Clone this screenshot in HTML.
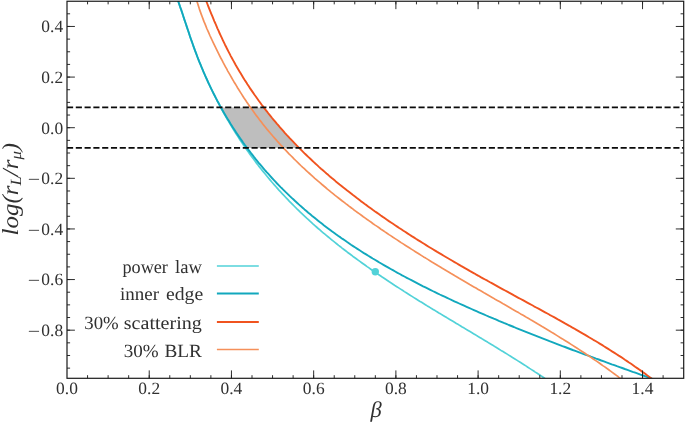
<!DOCTYPE html>
<html><head><meta charset="utf-8"><title>plot</title>
<style>
html,body{margin:0;padding:0;background:#fff;}
body{width:685px;height:422px;overflow:hidden;font-family:"Liberation Serif",serif;}
svg{display:block;will-change:transform;}
text{font-family:"Liberation Serif",serif;fill:#303030;text-rendering:geometricPrecision;}
</style></head><body>
<svg width="685" height="422" viewBox="0 0 685 422">
<rect width="685" height="422" fill="#fff"/>
<defs><clipPath id="ax"><rect x="67.0" y="1.25" width="616.7" height="377.05"/></clipPath></defs>
<g clip-path="url(#ax)" fill="none" stroke-linecap="butt" stroke-linejoin="round">
<polygon points="220.9,107.5 221.2,107.9 222.5,110.2 223.8,112.4 225.1,114.7 226.4,116.9 227.7,119.1 229.1,121.3 230.4,123.5 231.8,125.7 233.2,127.9 234.6,130.1 236.0,132.2 237.4,134.3 238.8,136.4 240.3,138.5 241.8,140.6 243.2,142.7 244.7,144.8 246.2,146.8 247.1,147.9 299.2,147.9 298.1,146.9 296.4,145.2 294.7,143.4 293.1,141.7 291.4,139.9 289.7,138.1 288.1,136.3 286.4,134.6 284.8,132.8 283.2,130.9 281.6,129.1 280.0,127.3 278.4,125.4 276.8,123.6 275.2,121.7 273.6,119.8 272.1,118.0 270.6,116.1 269.0,114.2 267.5,112.2 266.0,110.3 264.5,108.4 263.8,107.5" fill="#bebebe" stroke="none"/>
<path d="M176.7,-3.2 L178.3,1.5 L179.1,3.8 L179.9,6.2 L180.6,8.5 L181.4,10.8 L182.2,13.2 L183.0,15.5 L183.7,17.8 L184.5,20.2 L185.3,22.5 L186.1,24.8 L186.8,27.2 L187.6,29.5 L188.4,31.8 L189.2,34.1 L190.0,36.4 L190.8,38.8 L191.6,41.1 L192.4,43.3 L193.2,45.6 L194.1,47.9 L194.9,50.2 L195.8,52.4 L196.6,54.7 L197.5,56.9 L198.4,59.1 L199.3,61.4 L200.2,63.6 L201.1,65.8 L202.0,68.0 L202.9,70.2 L203.8,72.3 L204.8,74.5 L205.7,76.7 L206.7,78.8 L207.7,81.0 L208.6,83.1 L209.6,85.2 L210.6,87.3 L211.6,89.4 L212.6,91.5 L213.7,93.6 L214.7,95.7 L215.7,97.8 L216.8,99.8 L217.8,101.9 L218.9,103.9 L220.0,106.0 L221.0,108.0 L222.1,110.0 L223.2,112.0 L224.3,114.0 L225.5,116.0 L226.6,118.0 L227.7,120.0 L228.9,121.9 L230.0,123.9 L231.2,125.8 L232.4,127.8 L233.6,129.7 L234.7,131.6 L235.9,133.5 L237.2,135.4 L238.4,137.3 L239.6,139.2 L240.8,141.1 L242.1,142.9 L243.3,144.8 L244.6,146.6 L245.9,148.5 L247.1,150.3 L248.4,152.1 L249.7,153.9 L251.0,155.7 L252.3,157.5 L253.7,159.3 L255.0,161.1 L256.3,162.9 L257.7,164.6 L259.0,166.4 L260.4,168.1 L261.8,169.9 L263.2,171.6 L264.6,173.3 L266.0,175.0 L267.4,176.7 L268.8,178.4 L270.2,180.1 L271.6,181.8 L273.1,183.5 L274.5,185.1 L276.0,186.8 L277.4,188.4 L278.9,190.1 L280.4,191.7 L281.9,193.3 L283.4,194.9 L284.9,196.5 L286.4,198.1 L287.9,199.7 L289.4,201.3 L291.0,202.9 L292.5,204.4 L294.1,206.0 L295.6,207.5 L297.2,209.1 L298.8,210.6 L300.3,212.2 L301.9,213.7 L303.5,215.2 L305.1,216.7 L306.7,218.2 L308.4,219.7 L310.0,221.2 L311.6,222.6 L313.2,224.1 L314.9,225.6 L316.5,227.0 L318.2,228.5 L319.9,229.9 L321.5,231.4 L323.2,232.8 L324.9,234.2 L326.6,235.6 L328.3,237.0 L330.0,238.4 L331.7,239.8 L333.4,241.2 L335.2,242.6 L336.9,244.0 L338.6,245.4 L340.4,246.7 L342.1,248.1 L343.9,249.5 L345.6,250.8 L347.4,252.2 L349.2,253.5 L350.9,254.8 L352.7,256.2 L354.5,257.5 L356.3,258.8 L358.1,260.1 L359.9,261.4 L361.7,262.7 L363.5,264.0 L365.3,265.3 L367.1,266.6 L369.0,267.9 L370.8,269.2 L372.6,270.5 L374.5,271.7 L376.3,273.0 L378.1,274.3 L380.0,275.5 L381.8,276.8 L383.7,278.0 L385.6,279.3 L387.4,280.5 L389.3,281.8 L391.2,283.0 L393.0,284.2 L394.9,285.5 L396.8,286.7 L398.7,287.9 L400.6,289.1 L402.5,290.3 L404.4,291.6 L406.3,292.8 L408.2,294.0 L410.1,295.2 L412.0,296.4 L413.9,297.6 L415.8,298.8 L417.7,300.0 L419.6,301.2 L421.6,302.3 L423.5,303.5 L425.4,304.7 L427.3,305.9 L429.3,307.1 L431.2,308.3 L433.1,309.4 L435.1,310.6 L437.0,311.8 L438.9,313.0 L440.9,314.1 L442.8,315.3 L444.8,316.5 L446.7,317.6 L448.6,318.8 L450.6,320.0 L452.5,321.1 L454.5,322.3 L456.4,323.5 L458.4,324.6 L460.3,325.8 L462.2,327.0 L464.2,328.1 L466.1,329.3 L468.1,330.5 L470.0,331.6 L472.0,332.8 L473.9,333.9 L475.9,335.1 L477.8,336.3 L479.7,337.4 L481.7,338.6 L483.6,339.8 L485.6,341.0 L487.5,342.1 L489.4,343.3 L491.4,344.5 L493.3,345.6 L495.2,346.8 L497.2,348.0 L499.1,349.2 L501.0,350.4 L503.0,351.5 L504.9,352.7 L506.8,353.9 L508.7,355.1 L510.6,356.3 L512.5,357.5 L514.5,358.7 L516.4,359.9 L518.3,361.1 L520.2,362.3 L522.1,363.5 L524.0,364.7 L525.9,365.9 L527.8,367.2 L529.6,368.4 L531.5,369.6 L533.4,370.8 L535.3,372.1 L537.2,373.3 L539.0,374.5 L540.9,375.8 L542.8,377.0 L544.6,378.3 L548.8,381.1" stroke="#52D2D8" stroke-width="1.7"/>
<path d="M176.6,-3.2 L178.3,1.5 L179.2,4.1 L180.1,6.8 L181.1,9.4 L182.0,12.1 L182.9,14.7 L183.7,17.4 L184.6,20.1 L185.5,22.7 L186.4,25.4 L187.3,28.1 L188.2,30.7 L189.1,33.4 L189.9,36.1 L190.8,38.7 L191.8,41.4 L192.7,44.0 L193.6,46.6 L194.5,49.2 L195.5,51.8 L196.5,54.4 L197.4,57.0 L198.4,59.6 L199.4,62.1 L200.5,64.6 L201.5,67.2 L202.6,69.7 L203.6,72.2 L204.7,74.6 L205.8,77.1 L206.9,79.5 L208.0,82.0 L209.1,84.4 L210.3,86.8 L211.4,89.2 L212.6,91.6 L213.8,94.0 L215.0,96.3 L216.2,98.7 L217.4,101.0 L218.7,103.3 L219.9,105.6 L221.2,107.9 L222.5,110.2 L223.8,112.4 L225.1,114.7 L226.4,116.9 L227.7,119.1 L229.1,121.3 L230.4,123.5 L231.8,125.7 L233.2,127.9 L234.6,130.1 L236.0,132.2 L237.4,134.3 L238.8,136.4 L240.3,138.5 L241.8,140.6 L243.2,142.7 L244.7,144.8 L246.2,146.8 L247.7,148.9 L249.3,150.9 L250.8,152.9 L252.4,154.9 L253.9,156.9 L255.5,158.9 L257.1,160.8 L258.7,162.8 L260.3,164.7 L262.0,166.7 L263.6,168.6 L265.2,170.5 L266.9,172.4 L268.6,174.2 L270.3,176.1 L272.0,178.0 L273.7,179.8 L275.4,181.6 L277.1,183.5 L278.9,185.3 L280.6,187.1 L282.4,188.8 L284.2,190.6 L286.0,192.4 L287.8,194.1 L289.6,195.9 L291.4,197.6 L293.3,199.3 L295.1,201.0 L297.0,202.7 L298.8,204.4 L300.7,206.1 L302.6,207.7 L304.5,209.4 L306.4,211.0 L308.3,212.7 L310.3,214.3 L312.2,215.9 L314.2,217.5 L316.1,219.1 L318.1,220.7 L320.1,222.3 L322.1,223.8 L324.1,225.4 L326.1,226.9 L328.1,228.4 L330.2,230.0 L332.2,231.5 L334.3,233.0 L336.3,234.5 L338.4,236.0 L340.5,237.4 L342.6,238.9 L344.7,240.3 L346.8,241.8 L348.9,243.2 L351.0,244.7 L353.1,246.1 L355.3,247.5 L357.4,248.9 L359.6,250.3 L361.8,251.7 L363.9,253.1 L366.1,254.4 L368.3,255.8 L370.5,257.1 L372.7,258.5 L374.9,259.8 L377.2,261.1 L379.4,262.5 L381.6,263.8 L383.9,265.1 L386.1,266.4 L388.4,267.7 L390.7,269.0 L392.9,270.2 L395.2,271.5 L397.5,272.8 L399.8,274.0 L402.1,275.3 L404.4,276.5 L406.8,277.8 L409.1,279.0 L411.4,280.2 L413.7,281.4 L416.1,282.7 L418.4,283.9 L420.8,285.1 L423.1,286.3 L425.5,287.4 L427.9,288.6 L430.3,289.8 L432.6,291.0 L435.0,292.1 L437.4,293.3 L439.8,294.5 L442.2,295.6 L444.6,296.7 L447.1,297.9 L449.5,299.0 L451.9,300.2 L454.3,301.3 L456.8,302.4 L459.2,303.5 L461.7,304.6 L464.1,305.7 L466.6,306.8 L469.0,307.9 L471.5,309.0 L473.9,310.1 L476.4,311.2 L478.9,312.3 L481.4,313.4 L483.8,314.4 L486.3,315.5 L488.8,316.6 L491.3,317.6 L493.8,318.7 L496.3,319.7 L498.8,320.8 L501.3,321.8 L503.8,322.9 L506.3,323.9 L508.8,325.0 L511.4,326.0 L513.9,327.0 L516.4,328.1 L518.9,329.1 L521.5,330.1 L524.0,331.1 L526.5,332.1 L529.1,333.2 L531.6,334.2 L534.2,335.2 L536.7,336.2 L539.3,337.2 L541.8,338.2 L544.4,339.2 L547.0,340.2 L549.5,341.2 L552.1,342.1 L554.7,343.1 L557.2,344.1 L559.8,345.1 L562.4,346.1 L565.0,347.0 L567.5,348.0 L570.1,349.0 L572.7,350.0 L575.3,350.9 L577.9,351.9 L580.5,352.9 L583.1,353.8 L585.7,354.8 L588.3,355.7 L590.9,356.7 L593.5,357.6 L596.1,358.6 L598.7,359.5 L601.3,360.5 L603.9,361.4 L606.5,362.4 L609.1,363.3 L611.7,364.3 L614.3,365.2 L616.9,366.2 L619.6,367.1 L622.2,368.0 L624.8,369.0 L627.4,369.9 L630.0,370.8 L632.6,371.8 L635.3,372.7 L637.9,373.6 L640.5,374.6 L643.1,375.5 L645.8,376.4 L648.4,377.4 L651.0,378.3 L655.7,380.0" stroke="#12A8BD" stroke-width="1.9"/>
<path d="M204.6,-3.2 L206.4,1.5 L207.4,4.0 L208.3,6.4 L209.3,8.9 L210.3,11.3 L211.3,13.8 L212.3,16.2 L213.3,18.6 L214.3,21.1 L215.4,23.5 L216.4,25.9 L217.4,28.3 L218.5,30.7 L219.5,33.0 L220.6,35.4 L221.7,37.7 L222.8,40.1 L223.9,42.4 L225.0,44.7 L226.2,47.0 L227.3,49.3 L228.5,51.6 L229.7,53.9 L230.8,56.1 L232.0,58.3 L233.3,60.6 L234.5,62.8 L235.7,65.0 L237.0,67.2 L238.2,69.3 L239.5,71.5 L240.8,73.6 L242.1,75.8 L243.4,77.9 L244.7,80.0 L246.1,82.1 L247.4,84.2 L248.8,86.3 L250.1,88.4 L251.5,90.4 L252.9,92.4 L254.3,94.5 L255.8,96.5 L257.2,98.5 L258.6,100.5 L260.1,102.5 L261.5,104.5 L263.0,106.4 L264.5,108.4 L266.0,110.3 L267.5,112.2 L269.0,114.2 L270.6,116.1 L272.1,118.0 L273.6,119.8 L275.2,121.7 L276.8,123.6 L278.4,125.4 L280.0,127.3 L281.6,129.1 L283.2,130.9 L284.8,132.8 L286.4,134.6 L288.1,136.3 L289.7,138.1 L291.4,139.9 L293.1,141.7 L294.7,143.4 L296.4,145.2 L298.1,146.9 L299.8,148.6 L301.6,150.4 L303.3,152.1 L305.0,153.8 L306.8,155.5 L308.5,157.1 L310.3,158.8 L312.1,160.5 L313.8,162.1 L315.6,163.8 L317.4,165.4 L319.2,167.1 L321.0,168.7 L322.9,170.3 L324.7,171.9 L326.5,173.5 L328.4,175.1 L330.2,176.7 L332.1,178.3 L334.0,179.8 L335.8,181.4 L337.7,182.9 L339.6,184.5 L341.5,186.0 L343.4,187.6 L345.3,189.1 L347.2,190.6 L349.2,192.1 L351.1,193.6 L353.0,195.1 L355.0,196.6 L356.9,198.1 L358.9,199.6 L360.8,201.1 L362.8,202.5 L364.8,204.0 L366.8,205.4 L368.8,206.9 L370.7,208.3 L372.7,209.8 L374.7,211.2 L376.8,212.6 L378.8,214.0 L380.8,215.5 L382.8,216.9 L384.9,218.3 L386.9,219.7 L388.9,221.1 L391.0,222.5 L393.0,223.8 L395.1,225.2 L397.2,226.6 L399.2,228.0 L401.3,229.3 L403.4,230.7 L405.5,232.0 L407.5,233.4 L409.6,234.7 L411.7,236.1 L413.8,237.4 L415.9,238.8 L418.0,240.1 L420.2,241.4 L422.3,242.7 L424.4,244.0 L426.5,245.4 L428.6,246.7 L430.8,248.0 L432.9,249.3 L435.1,250.6 L437.2,251.9 L439.3,253.1 L441.5,254.4 L443.7,255.7 L445.8,257.0 L448.0,258.3 L450.1,259.5 L452.3,260.8 L454.5,262.1 L456.6,263.3 L458.8,264.6 L461.0,265.9 L463.2,267.1 L465.4,268.4 L467.6,269.6 L469.7,270.9 L471.9,272.1 L474.1,273.3 L476.3,274.6 L478.5,275.8 L480.7,277.1 L482.9,278.3 L485.1,279.5 L487.4,280.7 L489.6,282.0 L491.8,283.2 L494.0,284.4 L496.2,285.6 L498.4,286.9 L500.6,288.1 L502.9,289.3 L505.1,290.5 L507.3,291.7 L509.5,292.9 L511.8,294.1 L514.0,295.4 L516.2,296.6 L518.4,297.8 L520.7,299.0 L522.9,300.2 L525.1,301.4 L527.3,302.6 L529.6,303.8 L531.8,305.0 L534.0,306.3 L536.2,307.5 L538.5,308.7 L540.7,309.9 L542.9,311.1 L545.1,312.3 L547.4,313.5 L549.6,314.8 L551.8,316.0 L554.0,317.2 L556.2,318.4 L558.4,319.7 L560.6,320.9 L562.8,322.1 L565.0,323.4 L567.2,324.6 L569.4,325.8 L571.6,327.1 L573.8,328.3 L576.0,329.6 L578.2,330.9 L580.3,332.1 L582.5,333.4 L584.7,334.6 L586.8,335.9 L589.0,337.2 L591.2,338.5 L593.3,339.8 L595.5,341.0 L597.6,342.3 L599.7,343.6 L601.9,344.9 L604.0,346.3 L606.1,347.6 L608.2,348.9 L610.3,350.2 L612.4,351.6 L614.5,352.9 L616.6,354.2 L618.7,355.6 L620.8,356.9 L622.9,358.3 L624.9,359.7 L627.0,361.1 L629.0,362.5 L631.1,363.8 L633.1,365.2 L635.1,366.7 L637.2,368.1 L639.2,369.5 L641.2,370.9 L643.2,372.4 L645.2,373.8 L647.1,375.3 L649.1,376.7 L651.1,378.2 L655.1,381.2" stroke="#F0531F" stroke-width="1.9"/>
<path d="M195.5,-3.3 L197.0,1.5 L197.8,4.1 L198.6,6.6 L199.4,9.1 L200.3,11.6 L201.2,14.1 L202.1,16.5 L203.0,18.9 L203.9,21.4 L204.9,23.7 L205.9,26.1 L206.8,28.5 L207.9,30.8 L208.9,33.1 L209.9,35.5 L211.0,37.8 L212.0,40.0 L213.1,42.3 L214.2,44.6 L215.3,46.8 L216.4,49.1 L217.5,51.3 L218.6,53.6 L219.7,55.8 L220.8,58.0 L222.0,60.2 L223.1,62.4 L224.3,64.6 L225.5,66.8 L226.7,68.9 L227.8,71.1 L229.0,73.2 L230.3,75.4 L231.5,77.5 L232.7,79.6 L233.9,81.7 L235.2,83.8 L236.5,85.9 L237.7,88.0 L239.0,90.0 L240.3,92.1 L241.6,94.1 L242.9,96.2 L244.2,98.2 L245.6,100.2 L246.9,102.2 L248.3,104.2 L249.6,106.2 L251.0,108.1 L252.4,110.1 L253.8,112.0 L255.2,114.0 L256.6,115.9 L258.1,117.8 L259.5,119.7 L261.0,121.6 L262.4,123.5 L263.9,125.4 L265.4,127.2 L266.9,129.1 L268.4,130.9 L270.0,132.7 L271.5,134.5 L273.0,136.3 L274.6,138.1 L276.2,139.9 L277.7,141.7 L279.3,143.4 L280.9,145.2 L282.5,146.9 L284.1,148.7 L285.8,150.4 L287.4,152.1 L289.0,153.8 L290.7,155.5 L292.4,157.2 L294.0,158.9 L295.7,160.5 L297.4,162.2 L299.1,163.8 L300.8,165.5 L302.5,167.1 L304.3,168.7 L306.0,170.3 L307.7,171.9 L309.5,173.5 L311.3,175.1 L313.0,176.7 L314.8,178.3 L316.6,179.8 L318.4,181.4 L320.2,182.9 L322.0,184.5 L323.8,186.0 L325.6,187.5 L327.4,189.1 L329.3,190.6 L331.1,192.1 L333.0,193.6 L334.8,195.1 L336.7,196.6 L338.5,198.0 L340.4,199.5 L342.3,201.0 L344.2,202.4 L346.1,203.9 L348.0,205.3 L349.9,206.8 L351.8,208.2 L353.7,209.7 L355.6,211.1 L357.5,212.5 L359.5,213.9 L361.4,215.3 L363.3,216.7 L365.3,218.1 L367.2,219.5 L369.2,220.9 L371.2,222.3 L373.1,223.7 L375.1,225.1 L377.1,226.4 L379.1,227.8 L381.0,229.2 L383.0,230.5 L385.0,231.9 L387.0,233.2 L389.0,234.6 L391.0,235.9 L393.0,237.3 L395.1,238.6 L397.1,239.9 L399.1,241.2 L401.1,242.6 L403.2,243.9 L405.2,245.2 L407.2,246.5 L409.3,247.8 L411.3,249.1 L413.4,250.4 L415.4,251.7 L417.5,253.0 L419.5,254.3 L421.6,255.6 L423.6,256.9 L425.7,258.1 L427.8,259.4 L429.9,260.7 L431.9,262.0 L434.0,263.2 L436.1,264.5 L438.2,265.8 L440.3,267.0 L442.3,268.3 L444.4,269.5 L446.5,270.8 L448.6,272.0 L450.7,273.3 L452.8,274.5 L454.9,275.8 L457.0,277.0 L459.1,278.3 L461.2,279.5 L463.4,280.8 L465.5,282.0 L467.6,283.2 L469.7,284.5 L471.8,285.7 L473.9,286.9 L476.0,288.1 L478.2,289.4 L480.3,290.6 L482.4,291.8 L484.5,293.1 L486.6,294.3 L488.8,295.5 L490.9,296.7 L493.0,297.9 L495.1,299.2 L497.3,300.4 L499.4,301.6 L501.5,302.8 L503.6,304.1 L505.8,305.3 L507.9,306.5 L510.0,307.7 L512.1,309.0 L514.2,310.2 L516.4,311.4 L518.5,312.6 L520.6,313.9 L522.7,315.1 L524.8,316.3 L526.9,317.6 L529.1,318.8 L531.2,320.1 L533.3,321.3 L535.4,322.5 L537.5,323.8 L539.6,325.0 L541.7,326.3 L543.8,327.5 L545.9,328.8 L547.9,330.0 L550.0,331.3 L552.1,332.6 L554.2,333.8 L556.3,335.1 L558.3,336.4 L560.4,337.7 L562.5,338.9 L564.5,340.2 L566.6,341.5 L568.7,342.8 L570.7,344.1 L572.7,345.4 L574.8,346.7 L576.8,348.0 L578.9,349.4 L580.9,350.7 L582.9,352.0 L584.9,353.3 L586.9,354.7 L588.9,356.0 L590.9,357.4 L592.9,358.7 L594.9,360.1 L596.9,361.4 L598.9,362.8 L600.9,364.2 L602.8,365.6 L604.8,366.9 L606.7,368.3 L608.7,369.7 L610.6,371.1 L612.6,372.6 L614.5,374.0 L616.4,375.4 L618.3,376.8 L620.2,378.3 L624.2,381.3" stroke="#F5905A" stroke-width="1.7"/>
<path d="M67.0,107.45 H683.7" stroke="#0a0a0a" stroke-width="1.66" stroke-dasharray="6.135 2.6525"/>
<path d="M67.0,147.95 H683.7" stroke="#0a0a0a" stroke-width="1.66" stroke-dasharray="6.135 2.6525"/>
<circle cx="375.3" cy="271.8" r="3.7" fill="#52D2D8" stroke="none"/>
</g>
<path d="M87.56,378.3 v-3.1 M87.56,1.25 v3.1 M108.11,378.3 v-3.1 M108.11,1.25 v3.1 M128.67,378.3 v-3.1 M128.67,1.25 v3.1 M149.22,378.3 v-3.1 M149.22,1.25 v3.1 M169.78,378.3 v-3.1 M169.78,1.25 v3.1 M190.33,378.3 v-3.1 M190.33,1.25 v3.1 M210.89,378.3 v-3.1 M210.89,1.25 v3.1 M231.44,378.3 v-3.1 M231.44,1.25 v3.1 M252.00,378.3 v-3.1 M252.00,1.25 v3.1 M272.55,378.3 v-3.1 M272.55,1.25 v3.1 M293.11,378.3 v-3.1 M293.11,1.25 v3.1 M313.66,378.3 v-3.1 M313.66,1.25 v3.1 M334.22,378.3 v-3.1 M334.22,1.25 v3.1 M354.77,378.3 v-3.1 M354.77,1.25 v3.1 M375.33,378.3 v-3.1 M375.33,1.25 v3.1 M395.88,378.3 v-3.1 M395.88,1.25 v3.1 M416.44,378.3 v-3.1 M416.44,1.25 v3.1 M436.99,378.3 v-3.1 M436.99,1.25 v3.1 M457.55,378.3 v-3.1 M457.55,1.25 v3.1 M478.10,378.3 v-3.1 M478.10,1.25 v3.1 M498.66,378.3 v-3.1 M498.66,1.25 v3.1 M519.21,378.3 v-3.1 M519.21,1.25 v3.1 M539.77,378.3 v-3.1 M539.77,1.25 v3.1 M560.32,378.3 v-3.1 M560.32,1.25 v3.1 M580.88,378.3 v-3.1 M580.88,1.25 v3.1 M601.43,378.3 v-3.1 M601.43,1.25 v3.1 M621.99,378.3 v-3.1 M621.99,1.25 v3.1 M642.54,378.3 v-3.1 M642.54,1.25 v3.1 M663.10,378.3 v-3.1 M663.10,1.25 v3.1 M149.22,378.3 v-7.9 M149.22,1.25 v7.9 M231.44,378.3 v-7.9 M231.44,1.25 v7.9 M313.66,378.3 v-7.9 M313.66,1.25 v7.9 M395.88,378.3 v-7.9 M395.88,1.25 v7.9 M478.10,378.3 v-7.9 M478.10,1.25 v7.9 M560.32,378.3 v-7.9 M560.32,1.25 v7.9 M642.54,378.3 v-7.9 M642.54,1.25 v7.9 M67.0,368.14 h3.1 M683.7,368.14 h-3.1 M67.0,355.49 h3.1 M683.7,355.49 h-3.1 M67.0,342.83 h3.1 M683.7,342.83 h-3.1 M67.0,330.18 h3.1 M683.7,330.18 h-3.1 M67.0,317.52 h3.1 M683.7,317.52 h-3.1 M67.0,304.87 h3.1 M683.7,304.87 h-3.1 M67.0,292.21 h3.1 M683.7,292.21 h-3.1 M67.0,279.56 h3.1 M683.7,279.56 h-3.1 M67.0,266.90 h3.1 M683.7,266.90 h-3.1 M67.0,254.25 h3.1 M683.7,254.25 h-3.1 M67.0,241.59 h3.1 M683.7,241.59 h-3.1 M67.0,228.94 h3.1 M683.7,228.94 h-3.1 M67.0,216.28 h3.1 M683.7,216.28 h-3.1 M67.0,203.63 h3.1 M683.7,203.63 h-3.1 M67.0,190.97 h3.1 M683.7,190.97 h-3.1 M67.0,178.32 h3.1 M683.7,178.32 h-3.1 M67.0,165.66 h3.1 M683.7,165.66 h-3.1 M67.0,153.01 h3.1 M683.7,153.01 h-3.1 M67.0,140.35 h3.1 M683.7,140.35 h-3.1 M67.0,127.70 h3.1 M683.7,127.70 h-3.1 M67.0,115.04 h3.1 M683.7,115.04 h-3.1 M67.0,102.39 h3.1 M683.7,102.39 h-3.1 M67.0,89.73 h3.1 M683.7,89.73 h-3.1 M67.0,77.08 h3.1 M683.7,77.08 h-3.1 M67.0,64.42 h3.1 M683.7,64.42 h-3.1 M67.0,51.77 h3.1 M683.7,51.77 h-3.1 M67.0,39.11 h3.1 M683.7,39.11 h-3.1 M67.0,26.46 h3.1 M683.7,26.46 h-3.1 M67.0,13.80 h3.1 M683.7,13.80 h-3.1 M67.0,26.46 h7.9 M683.7,26.46 h-7.9 M67.0,77.08 h7.9 M683.7,77.08 h-7.9 M67.0,127.70 h7.9 M683.7,127.70 h-7.9 M67.0,178.32 h7.9 M683.7,178.32 h-7.9 M67.0,228.94 h7.9 M683.7,228.94 h-7.9 M67.0,279.56 h7.9 M683.7,279.56 h-7.9 M67.0,330.18 h7.9 M683.7,330.18 h-7.9" stroke="#222" stroke-width="0.95" fill="none"/>
<rect x="67.0" y="1.25" width="616.7" height="377.05" fill="none" stroke="#1a1a1a" stroke-width="1.2"/>
<g font-size="17.2"><text x="67.0" y="394.1" text-anchor="middle" textLength="21.8" lengthAdjust="spacingAndGlyphs">0.0</text><text x="149.2" y="394.1" text-anchor="middle" textLength="21.8" lengthAdjust="spacingAndGlyphs">0.2</text><text x="231.4" y="394.1" text-anchor="middle" textLength="21.8" lengthAdjust="spacingAndGlyphs">0.4</text><text x="313.7" y="394.1" text-anchor="middle" textLength="21.8" lengthAdjust="spacingAndGlyphs">0.6</text><text x="395.9" y="394.1" text-anchor="middle" textLength="21.8" lengthAdjust="spacingAndGlyphs">0.8</text><text x="478.1" y="394.1" text-anchor="middle" textLength="21.8" lengthAdjust="spacingAndGlyphs">1.0</text><text x="560.3" y="394.1" text-anchor="middle" textLength="21.8" lengthAdjust="spacingAndGlyphs">1.2</text><text x="642.5" y="394.1" text-anchor="middle" textLength="21.8" lengthAdjust="spacingAndGlyphs">1.4</text><text x="63.1" y="32.3" text-anchor="end" textLength="21.8" lengthAdjust="spacingAndGlyphs">0.4</text><text x="63.1" y="82.9" text-anchor="end" textLength="21.8" lengthAdjust="spacingAndGlyphs">0.2</text><text x="63.1" y="133.5" text-anchor="end" textLength="21.8" lengthAdjust="spacingAndGlyphs">0.0</text><text x="63.1" y="184.1" text-anchor="end" textLength="21.8" lengthAdjust="spacingAndGlyphs">0.2</text><text transform="translate(27.7,185.1) scale(1.275,1)">−</text><text x="63.1" y="234.7" text-anchor="end" textLength="21.8" lengthAdjust="spacingAndGlyphs">0.4</text><text transform="translate(27.7,235.7) scale(1.275,1)">−</text><text x="63.1" y="285.4" text-anchor="end" textLength="21.8" lengthAdjust="spacingAndGlyphs">0.6</text><text transform="translate(27.7,286.4) scale(1.275,1)">−</text><text x="63.1" y="336.0" text-anchor="end" textLength="21.8" lengthAdjust="spacingAndGlyphs">0.8</text><text transform="translate(27.7,337.0) scale(1.275,1)">−</text></g>
<g font-size="18.6"><text x="122.45" y="272.6" textLength="45.49" lengthAdjust="spacingAndGlyphs">power</text><text x="175.07" y="272.6" textLength="26.93" lengthAdjust="spacingAndGlyphs">law</text><text x="120.04" y="300.3" textLength="38.99" lengthAdjust="spacingAndGlyphs">inner</text><text x="165.99" y="300.3" textLength="37.25" lengthAdjust="spacingAndGlyphs">edge</text><text x="84.33" y="328.8" textLength="34.43" lengthAdjust="spacingAndGlyphs">30%</text><text x="123.80" y="328.8" textLength="78.00" lengthAdjust="spacingAndGlyphs">scattering</text><text x="123.75" y="356.9" textLength="34.93" lengthAdjust="spacingAndGlyphs">30%</text><text x="164.43" y="356.9" textLength="37.47" lengthAdjust="spacingAndGlyphs">BLR</text><path d="M216.9,266.0 H258.8" stroke="#52D2D8" stroke-width="1.7" fill="none"/><path d="M216.9,293.5 H258.8" stroke="#12A8BD" stroke-width="1.9" fill="none"/><path d="M216.9,322.0 H258.8" stroke="#F0531F" stroke-width="1.9" fill="none"/><path d="M216.9,349.5 H258.8" stroke="#F5905A" stroke-width="1.7" fill="none"/></g>
<text x="376.0" y="417.4" text-anchor="middle" font-size="22.5" font-style="italic">β</text>
<text transform="translate(17.8,189.1) rotate(-90)" text-anchor="middle" font-size="23" font-style="italic" textLength="92.6" lengthAdjust="spacingAndGlyphs">log(r<tspan font-size="15.5" dy="3.6">L</tspan><tspan dy="-3.6">/r</tspan><tspan font-size="15.5" dy="3.6">μ</tspan><tspan dy="-3.6">)</tspan></text>
</svg>
</body></html>
